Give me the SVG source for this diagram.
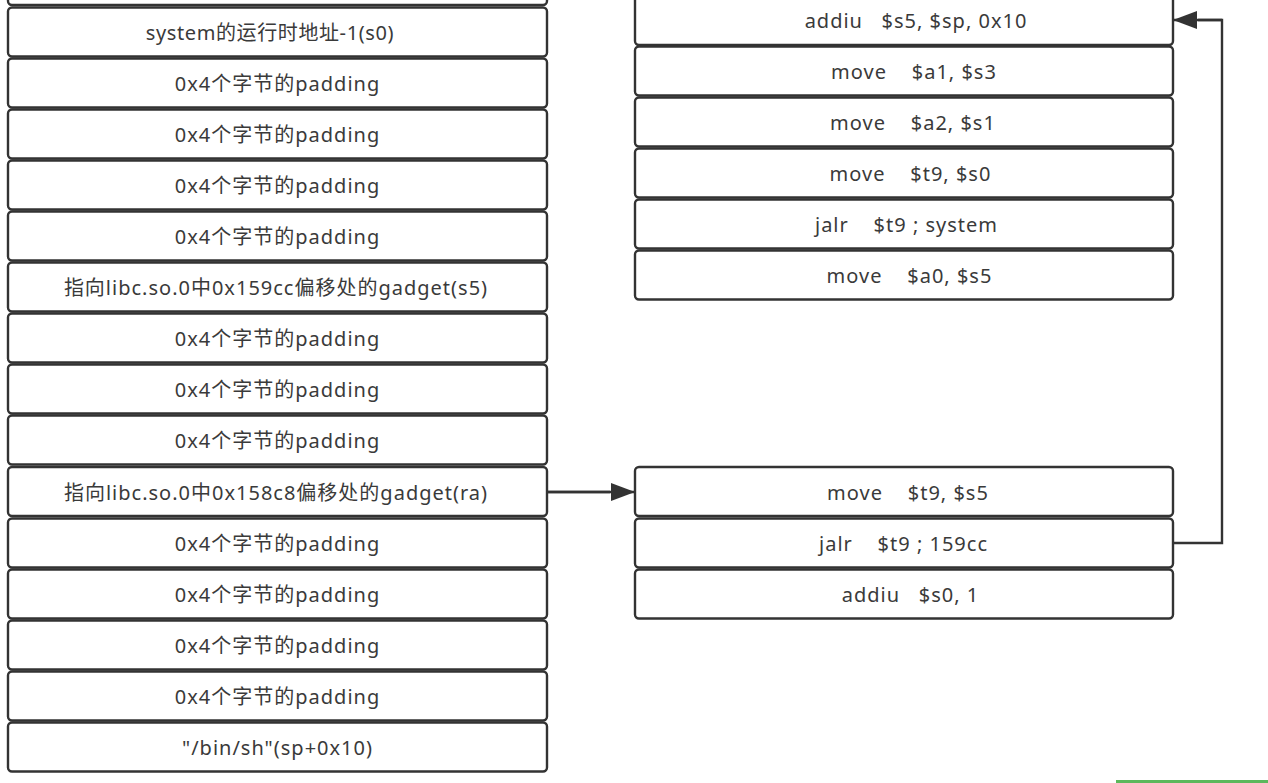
<svg xmlns="http://www.w3.org/2000/svg" width="1268" height="783" viewBox="0 0 1268 783">
<style>
.b{fill:#fff;stroke:#333;stroke-width:2.4}
.t{font-family:"Noto Sans","Noto Sans CJK SC",sans-serif;font-size:20px;letter-spacing:1px;fill:#3a3a3a;text-anchor:middle;dominant-baseline:central;white-space:pre}
.s{letter-spacing:0.6px}
.c{fill:none;stroke:#333;stroke-width:2.4}
</style>
<defs>
<marker id="ah" viewBox="0 0 24 18" refX="23" refY="9" markerWidth="24" markerHeight="18" markerUnits="userSpaceOnUse" orient="auto">
<path d="M0,0 L24,9 L0,18 Z" fill="#333"/>
</marker>
</defs>
<rect width="1268" height="783" fill="#fff"/>
<g id="left-stack">
<g id="L0"><rect class="b" x="8" y="-44" width="539" height="49" rx="4"/></g>
<g id="L1"><rect class="b" x="8" y="7.5" width="539" height="49" rx="4"/><text class="t s" x="270" y="32">system的运行时地址-1(s0)</text></g>
<g id="L2"><rect class="b" x="8" y="58.5" width="539" height="49" rx="4"/><text class="t" x="277.5" y="83">0x4个字节的padding</text></g>
<g id="L3"><rect class="b" x="8" y="109.5" width="539" height="49" rx="4"/><text class="t" x="277.5" y="134">0x4个字节的padding</text></g>
<g id="L4"><rect class="b" x="8" y="160.5" width="539" height="49" rx="4"/><text class="t" x="277.5" y="185">0x4个字节的padding</text></g>
<g id="L5"><rect class="b" x="8" y="211.5" width="539" height="49" rx="4"/><text class="t" x="277.5" y="236">0x4个字节的padding</text></g>
<g id="L6"><rect class="b" x="8" y="262.5" width="539" height="49" rx="4"/><text class="t" x="276" y="287">指向libc.so.0中0x159cc偏移处的gadget(s5)</text></g>
<g id="L7"><rect class="b" x="8" y="313.5" width="539" height="49" rx="4"/><text class="t" x="277.5" y="338">0x4个字节的padding</text></g>
<g id="L8"><rect class="b" x="8" y="364.5" width="539" height="49" rx="4"/><text class="t" x="277.5" y="389">0x4个字节的padding</text></g>
<g id="L9"><rect class="b" x="8" y="415.5" width="539" height="49" rx="4"/><text class="t" x="277.5" y="440">0x4个字节的padding</text></g>
<g id="L10"><rect class="b" x="8" y="467" width="539" height="49" rx="4"/><text class="t" x="276" y="492">指向libc.so.0中0x158c8偏移处的gadget(ra)</text></g>
<g id="L11"><rect class="b" x="8" y="518.5" width="539" height="49" rx="4"/><text class="t" x="277.5" y="543">0x4个字节的padding</text></g>
<g id="L12"><rect class="b" x="8" y="569.5" width="539" height="49" rx="4"/><text class="t" x="277.5" y="594">0x4个字节的padding</text></g>
<g id="L13"><rect class="b" x="8" y="620.5" width="539" height="49" rx="4"/><text class="t" x="277.5" y="645">0x4个字节的padding</text></g>
<g id="L14"><rect class="b" x="8" y="671.5" width="539" height="49" rx="4"/><text class="t" x="277.5" y="696">0x4个字节的padding</text></g>
<g id="L15"><rect class="b" x="8" y="722.5" width="539" height="49" rx="4"/><text class="t" x="277.5" y="747">"/bin/sh"(sp+0x10)</text></g>
</g>
<g id="right-top">
<g id="R1"><rect class="b" x="635" y="-5" width="538" height="50" rx="4"/><text class="t" x="916" y="20">addiu   $s5, $sp, 0x10</text></g>
<g id="R2"><rect class="b" x="635" y="46.5" width="538" height="49" rx="4"/><text class="t" x="914" y="71">move    $a1, $s3</text></g>
<g id="R3"><rect class="b" x="635" y="97.5" width="538" height="49" rx="4"/><text class="t" x="913" y="122">move    $a2, $s1</text></g>
<g id="R4"><rect class="b" x="635" y="148.5" width="538" height="49" rx="4"/><text class="t" x="910.5" y="173">move    $t9, $s0</text></g>
<g id="R5"><rect class="b" x="635" y="199.5" width="538" height="49" rx="4"/><text class="t" x="906.5" y="224">jalr    $t9 ; system</text></g>
<g id="R6"><rect class="b" x="635" y="250.5" width="538" height="49" rx="4"/><text class="t" x="909.5" y="275">move    $a0, $s5</text></g>
</g>
<g id="right-bottom">
<g id="R7"><rect class="b" x="635" y="467" width="538" height="49" rx="4"/><text class="t" x="908" y="492">move    $t9, $s5</text></g>
<g id="R8"><rect class="b" x="635" y="518.5" width="538" height="49" rx="4"/><text class="t" x="903.5" y="543">jalr    $t9 ; 159cc</text></g>
<g id="R9"><rect class="b" x="635" y="569.5" width="538" height="49" rx="4"/><text class="t" x="910.5" y="594">addiu   $s0, 1</text></g>
</g>
<g id="connectors">
<path class="c" d="M547,492 L610,492"/>
<path class="c" d="M547,492 L634,492" marker-end="url(#ah)" stroke="none"/>
<path class="c" d="M1173,543 L1222,543 L1222,20 L1198,20"/>
<path class="c" d="M1222,20 L1174,20" marker-end="url(#ah)" stroke="none"/>
</g>
<rect x="1116" y="780" width="152" height="3" fill="#5cb85c"/>
</svg>
